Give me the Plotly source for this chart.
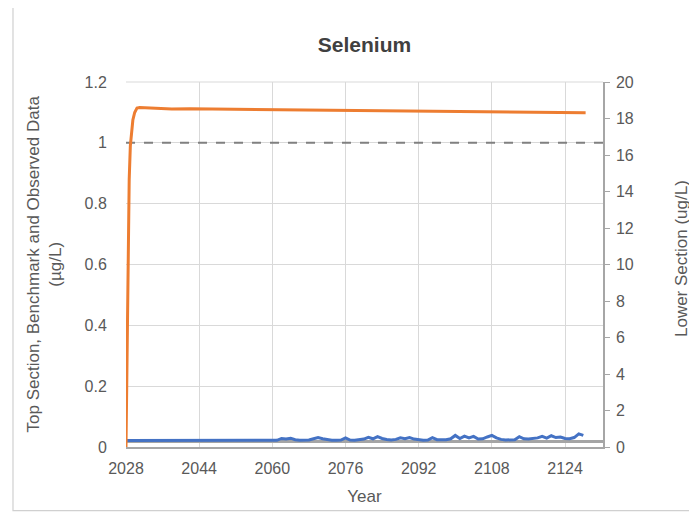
import plotly.graph_objects as go

# ---- data ----
top_years = [2028.0, 2028.2, 2028.45, 2028.7, 2028.95, 2029.2, 2029.5, 2029.9, 2030.4, 2031.0,
             2034, 2038, 2042, 2050, 2060, 2070, 2080, 2090, 2100, 2110, 2120, 2128.5]
top_values = [0.0, 0.30, 0.66, 0.88, 0.99, 1.04, 1.075, 1.10, 1.114, 1.116,
              1.113, 1.111, 1.112, 1.111, 1.109, 1.108, 1.107, 1.106, 1.104, 1.102, 1.101, 1.099]

lower_years = list(range(2028, 2129))
lower_values = [0.021] * 32 + [
    0.022, 0.022, 0.028, 0.026, 0.029, 0.024, 0.022, 0.022, 0.023, 0.027,  # 2060-2069
    0.031, 0.027, 0.024, 0.022, 0.022, 0.023, 0.030, 0.023, 0.022, 0.024,  # 2070-2079
    0.026, 0.032, 0.027, 0.034, 0.028, 0.025, 0.023, 0.025, 0.030, 0.027,  # 2080-2089
    0.031, 0.026, 0.023, 0.022, 0.023, 0.031, 0.024, 0.023, 0.024, 0.027,  # 2090-2099
    0.038, 0.028, 0.036, 0.030, 0.035, 0.026, 0.027, 0.033, 0.038, 0.030,  # 2100-2109
    0.025, 0.023, 0.023, 0.024, 0.034, 0.027, 0.026, 0.027, 0.030, 0.035,  # 2110-2119
    0.029, 0.037, 0.031, 0.033, 0.028, 0.027, 0.031, 0.043, 0.038,         # 2120-2128
]

observed_years = [2028, 2132.3]
observed_values = [0.018, 0.018]

benchmark_years = [2028, 2132.3]
benchmark_values = [1.0, 1.0]

x_ticks = [2028, 2044, 2060, 2076, 2092, 2108, 2124]

# ---- figure ----
W, H = 689, 507
L, R, T, B = 118, 94, 74, 66
PW, PH = W - L - R, H - T - B

fig = go.Figure()
fig.add_trace(go.Scatter(x=observed_years, y=observed_values, mode="lines",
                         line=dict(color="#a5a5a5", width=3), name="Observed"))
fig.add_trace(go.Scatter(x=lower_years, y=lower_values, mode="lines",
                         line=dict(color="#4472c4", width=3), name="Lower Section"))
fig.add_trace(go.Scatter(x=benchmark_years, y=benchmark_values, mode="lines",
                         line=dict(color="#808080", width=2, dash="dash"), name="Benchmark"))
fig.add_trace(go.Scatter(x=top_years, y=top_values, mode="lines",
                         line=dict(color="#ed7d31", width=3), name="Top Section"))
# invisible trace to activate right axis
fig.add_trace(go.Scatter(x=[2028], y=[0], yaxis="y2", mode="lines",
                         line=dict(width=0), showlegend=False, hoverinfo="skip"))

font_col = "#595959"
fig.update_layout(
    width=W, height=H,
    margin=dict(l=L, r=R, t=T, b=B),
    paper_bgcolor="white", plot_bgcolor="white",
    showlegend=False,
    font=dict(family="Liberation Sans, Arial, sans-serif", color=font_col, size=16),
    title=dict(text="<b>Selenium</b>", x=(L + PW / 2) / W, xanchor="center",
               y=1 - 37 / H, yanchor="middle",
               font=dict(size=21, color="#404040")),
    xaxis=dict(range=[2028, 2132.3], tickmode="array", tickvals=x_ticks,
               showgrid=True, gridcolor="#d9d9d9", gridwidth=1,
               showline=True, linecolor="#a6a6a6", linewidth=1.5,
               ticks="outside", ticklen=6, tickcolor="rgba(0,0,0,0)",
               zeroline=False,
               title=dict(text="Year", font=dict(size=17, color=font_col), standoff=14)),
    yaxis=dict(range=[0, 1.2], dtick=0.2, tick0=0,
               showgrid=True, gridcolor="#d9d9d9", gridwidth=1,
               zeroline=False, showline=False,
               ticks="outside", ticklen=15, tickcolor="rgba(0,0,0,0)"),
    yaxis2=dict(range=[0, 20], dtick=2, tick0=0, overlaying="y", side="right",
                showgrid=False, zeroline=False,
                showline=True, linecolor="#a6a6a6", linewidth=1.5,
                ticks="outside", ticklen=5, tickcolor="#a6a6a6", ticklabelstandoff=3),
    annotations=[
        dict(text="Top Section, Benchmark and Observed Data<br>(µg/L)",
             xref="paper", yref="paper", x=(36 - L) / PW, y=0.5,
             textangle=-90, showarrow=False, xanchor="center", yanchor="middle",
             font=dict(size=17, color=font_col)),
        dict(text="Lower Section (ug/L)",
             xref="paper", yref="paper", x=(673 - L) / PW, y=0.515,
             textangle=-90, showarrow=False, xanchor="center", yanchor="middle",
             font=dict(size=17, color=font_col)),
    ],
    shapes=[
        dict(type="rect", xref="paper", yref="paper",
             x0=(5 - L) / PW, x1=(W + 2 - L) / PW,
             y0=(PH + T - 505) / PH, y1=(PH + T + 2) / PH,
             line=dict(color="#d0d0d0", width=1.2), fillcolor="rgba(0,0,0,0)", layer="below"),
        dict(type="line", xref="paper", yref="paper", x0=0, x1=1, y0=1, y1=1,
             line=dict(color="#d9d9d9", width=1)),
    ],
)

fig.write_html("out.html")
